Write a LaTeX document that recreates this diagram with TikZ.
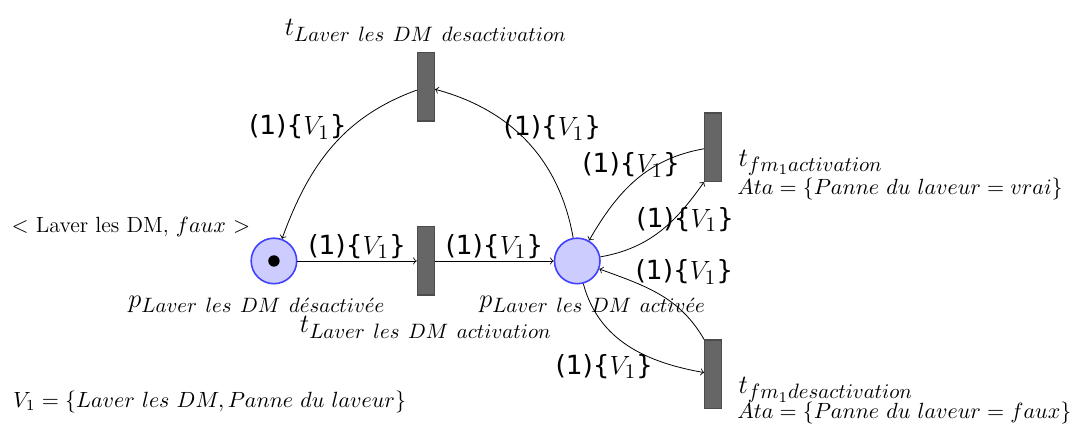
\RequirePackage{fix-cm}
\documentclass[tikz,border=0pt]{standalone}
\usepackage{amsmath}
\usepackage{fontspec}
\newfontfamily\arcfont{DejaVu Sans}
\usetikzlibrary{positioning}
\DeclareMathSizes{13.2}{13.2}{10.4}{7.5}

\tikzset{
  place/.style={circle, draw=blue!75, fill=blue!20, thick, minimum size=0.8cm, inner sep=0pt},
  transition/.style={rectangle, draw=black!70, fill=black!60, semithick, minimum width=0.3cm, minimum height=1.2cm, inner sep=0pt},
  token/.style={circle, fill=black, minimum size=0.2cm, inner sep=0pt},
  biglabel/.style={font=\fontsize{13.2}{16}\selectfont},
  weight/.style={font=\arcfont\fontsize{13.2}{16}\selectfont, inner sep=1pt}
}
\newcommand{\arcw}{(1)\{$V_1$\}}

\begin{document}
\begin{tikzpicture}[on grid, >=to, font=\fontsize{11}{13}\selectfont]
    \useasboundingbox (-4.814,-2.917) rectangle (14.06,4.586);
    \node [place, label={above left:$<$ Laver les DM, $faux$ $>$},
      label={[biglabel, xshift=-0.3cm, yshift=-0.08cm]below:$p_{Laver\ les\ DM\ d\acute{e}sactiv\acute{e}e}$}] (pDesact) {};
    \node [token] (tok) at (pDesact) {};
    \node [transition, right = 2.67cm of pDesact,
      label={[biglabel, yshift=-0.24cm]below:$t_{Laver\ les\ DM\ activation}$}] (tAct) {};
    \node [place, right = 2.66cm of tAct,
      label={[biglabel, xshift=0.27cm, yshift=-0.08cm]below:$p_{Laver\ les\ DM\ activ\acute{e}e}$}] (pAct) {};
    \node [transition, above = 3.06cm of tAct,
      label={[biglabel, yshift=0.07cm]above:$t_{Laver\ les\ DM\ desactivation}$}] (tDesact) {};
    \node [transition, above right = 2.0cm and 2.39cm of pAct,
      label={[biglabel, anchor=west, yshift=-0.28cm, xshift=0.16cm]east:$t_{fm_1activation}$},
      label={[anchor=west, xshift=0.14cm, yshift=-0.74cm]east:$Ata=\{Panne\ du\ laveur=vrai\}$}] (tFmAct) {};
    \node [transition, below right = 1.99cm and 2.39cm of pAct,
      label={[biglabel, anchor=west, yshift=-0.28cm, xshift=0.16cm]east:$t_{fm_1desactivation}$},
      label={[anchor=west, xshift=0.14cm, yshift=-0.68cm]east:$Ata=\{Panne\ du\ laveur=faux\}$}] (tFmDesact) {};
    \node [anchor=west, inner sep=0pt] (vars) at (-4.59,-2.48) {$V_1=\{Laver\ les\ DM, Panne\ du\ laveur\}$};

    \draw [->] (pDesact) -- node [above, weight] {\arcw} (tAct);
    \draw [->] (tAct) -- node [above, weight] {\arcw} (pAct);
    \draw [->] (pAct) to [out=100, in=-15] node [pos=0.6, right, weight, xshift=-0.2cm] {\arcw} (tDesact);
    \draw [->] (tDesact) to [out=200, in=70] node [pos=0.25, left, weight, xshift=-0.34cm, yshift=-0.22cm] {\arcw} (pDesact);
    \draw [->] (tFmAct) to [out=190, in=60] node [pos=0.35, above, weight, xshift=-0.39cm, yshift=-0.22cm] {\arcw} (pAct);
    \draw [->] (pAct) to [out=10, in=235] node [pos=0.7, weight, xshift=0.12cm, yshift=-0.09cm] {\arcw} (tFmAct.south west);
    \draw [->] (tFmDesact.north west) to [out=120, in=-20] node [pos=0.7, above, weight, xshift=0.82cm, yshift=-0.05cm] {\arcw} (pAct);
    \draw [->] (pAct) to [out=-75, in=170] node [pos=0.7, left, weight, yshift=-0.12cm] {\arcw} (tFmDesact);
\end{tikzpicture}
\end{document}
